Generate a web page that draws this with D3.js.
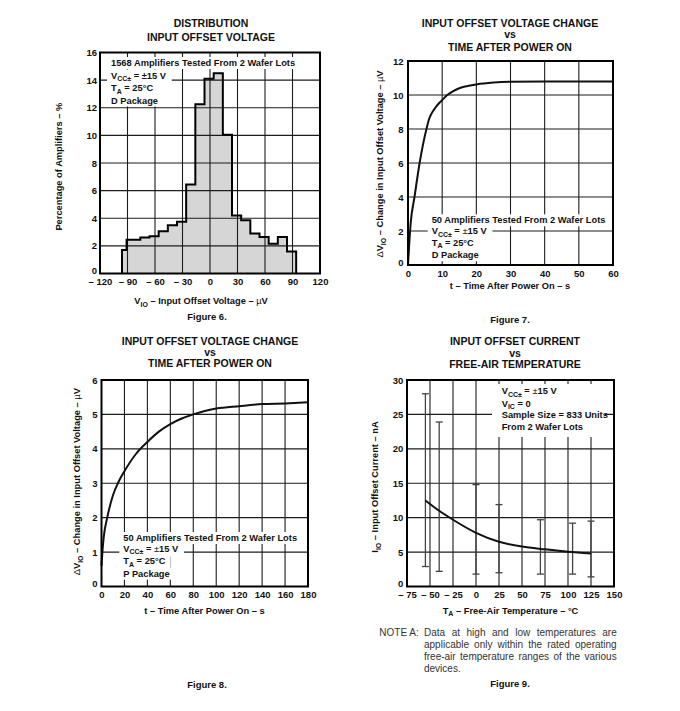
<!DOCTYPE html>
<html>
<head>
<meta charset="utf-8">
<script src="https://cdn.jsdelivr.net/npm/d3@7"></script>
<style>
  body { margin: 0; background: #fff; }
  svg text { font-family: "Liberation Sans", Arial, Helvetica, sans-serif; font-weight: bold; fill: #111; }
</style>
</head>
<body>
<script>
// Figure 6: distribution of input offset voltage (bin edges in uV, percentage per bin)
var binEdges = [-96, -91, -76, -66, -56, -46, -36, -26, -16, -6, 4, 14, 24, 34, 44, 54, 64, 74, 84, 94];
var binPct   = [1.7, 2.45, 2.6, 2.7, 3.05, 3.5, 3.75, 6.45, 12.25, 14.1, 14.5, 10.05, 4.2, 3.85, 2.9, 2.65, 2.15, 2.65, 1.6];

// Figure 7: offset change vs time after power on, D package
var timeD   = [0, 0.8, 1.9, 3.4, 5.4, 6.2, 7, 8, 9, 10, 11.5, 13, 15, 17.5, 20, 25, 30, 40, 60];
var changeD = [0, 2.5, 4, 6, 8, 8.6, 8.95, 9.25, 9.5, 9.7, 10.0, 10.2, 10.4, 10.53, 10.62, 10.73, 10.78, 10.8, 10.8];

// Figure 8: offset change vs time after power on, P package
var timeP   = [0, 1, 2, 5, 10, 15, 20, 30, 40, 50, 60, 70, 80, 90, 100, 120, 140, 160, 180];
var changeP = [0.6, 1.1, 1.45, 2.0, 2.65, 3.05, 3.35, 3.85, 4.2, 4.5, 4.72, 4.88, 5.0, 5.1, 5.17, 5.24, 5.3, 5.32, 5.35];

// Figure 9: input offset current vs temperature
var barTemps = [-55, -40, 0, 25, 70, 105, 125];
var iioMax   = [28, 23.9, 14.8, 11.9, 9.7, 9.2, 9.5];
var iioMin   = [2.9, 2.2, 1.8, 2.0, 1.8, 1.8, 1.4];
var curveTemps = [-55, -40, -25, 0, 25, 50, 75, 100, 125];
var iioTyp     = [12.5, 11.0, 9.7, 7.8, 6.5, 5.8, 5.4, 5.05, 4.8];

var svg = d3.select("body").append("svg").attr("width", 680).attr("height", 711);

function fmt(d) { return d < 0 ? "\u2013 " + Math.abs(d) : String(d); }

// parts: [[text, kind]] kind = "sub" | "thin"
function rich(t, parts, size) {
  var shift = 0;
  parts.forEach(function (p) {
    var ts = t.append("tspan").text(p[0]);
    var want = p[1] == "sub" ? size * 0.3 : 0;
    if (want != shift) { ts.attr("dy", want - shift); shift = want; }
    if (p[1] == "sub") ts.attr("font-size", size * 0.75);
    if (p[1] == "thin") ts.attr("font-weight", "normal");
  });
  return t;
}

function label(x, y, parts, size, anchor, rot) {
  var t = svg.append("text").attr("font-size", size).attr("text-anchor", anchor || "middle");
  if (rot) t.attr("transform", "translate(" + x + "," + y + ") rotate(-90)");
  else t.attr("x", x).attr("y", y);
  return rich(t, parts, size);
}

// annotation block, white behind each line (or one block)
function note(g, x0, baselines, lines, block) {
  var size = 9.3;
  var bg = g.append("g"), tx = g.append("g");
  var boxes = lines.map(function (ln, i) {
    var t = tx.append("text").attr("x", x0).attr("y", baselines[i]).attr("font-size", size);
    rich(t, ln, size);
    return t.node().getBBox();
  });
  if (block) {
    bg.append("rect").attr("x", block[0]).attr("y", block[1])
      .attr("width", block[2] - block[0]).attr("height", block[3] - block[1]).attr("fill", "#fff");
  } else {
    boxes.forEach(function (b) {
      bg.append("rect").attr("x", b.x - 4).attr("y", b.y - 1)
        .attr("width", b.width + 9).attr("height", b.height + 2).attr("fill", "#fff");
    });
  }
}

function panel(o) {
  var g = svg.append("g");
  var x = d3.scaleLinear().domain(o.xDom).range([o.left, o.right]);
  var y = d3.scaleLinear().domain(o.yDom).range([o.bottom, o.top]);
  var xt = d3.range(o.xDom[0], o.xDom[1] + 1e-9, o.xStep);
  var yt = d3.range(o.yDom[0], o.yDom[1] + 1e-9, o.yStep);

  if (o.under) o.under(g, x, y);

  var grid = g.append("g").attr("stroke", "#1c1c1c").attr("stroke-width", 1.1);
  grid.selectAll(".v").data(xt.slice(1, -1)).enter().append("line")
    .attr("x1", x).attr("x2", x).attr("y1", o.top).attr("y2", o.bottom);
  grid.selectAll(".h").data(yt.slice(1, -1)).enter().append("line")
    .attr("y1", y).attr("y2", y).attr("x1", o.left).attr("x2", o.right);

  if (o.over) o.over(g, x, y);

  g.append("rect").attr("x", o.left).attr("y", o.top)
    .attr("width", o.right - o.left).attr("height", o.bottom - o.top)
    .attr("fill", "none").attr("stroke", "#000").attr("stroke-width", 2);

  var ax = g.append("g").attr("transform", "translate(0," + o.bottom + ")")
    .call(d3.axisBottom(x).tickValues(xt).tickFormat(fmt).tickSize(0).tickPadding(5));
  var ay = g.append("g").attr("transform", "translate(" + o.left + ",0)")
    .call(d3.axisLeft(y).tickValues(yt).tickFormat(fmt).tickSize(0).tickPadding(o.yPad));
  [ax, ay].forEach(function (a) {
    a.attr("font-family", null).attr("font-size", 9.5);
    a.select(".domain").remove();
    a.selectAll("text").attr("fill", "#111");
  });
  // bottom y label sits just above the x labels
  ay.selectAll("text").filter(function (d) { return d === o.yDom[0]; }).attr("dy", "0.05em");

  o.title.forEach(function (s, i) { label(o.titleX, o.titleY[i], [[s]], 10.5); });
  label(o.xTitle[0], o.xTitle[1], o.xTitle[2], 9.3);
  label(o.yTitle[0], o.yTitle[1], o.yTitle[2], 9.3, "middle", true);
  label(o.fig[0], o.fig[1], [[o.fig[2]]], 9.5);
  return g;
}

var lineGen = function (x, y) {
  return d3.line().x(function (d) { return x(d[0]); }).y(function (d) { return y(d[1]); })
    .curve(d3.curveMonotoneX);
};

// ---------- Figure 6 ----------
panel({
  left: 100, right: 320, top: 52.5, bottom: 273.5,
  xDom: [-120, 120], xStep: 30, yDom: [0, 16], yStep: 2, yPad: 3,
  title: ["DISTRIBUTION", "INPUT OFFSET VOLTAGE"], titleX: 211, titleY: [27.3, 40.7],
  xTitle: [201, 304, [["V"], ["IO", "sub"], [" \u2013 Input Offset Voltage \u2013 "], ["\u00b5", "thin"], ["V"]]],
  yTitle: [62, 166.7, [["Percentage of Amplifiers \u2013 %"]]],
  fig: [207, 320, "Figure 6."],
  under: function (g, x, y) {
    var pts = [[binEdges[0], 0]];
    binPct.forEach(function (p, i) { pts.push([binEdges[i], p], [binEdges[i + 1], p]); });
    pts.push([binEdges[binEdges.length - 1], 0]);
    var step = d3.line().x(function (d) { return x(d[0]); }).y(function (d) { return y(d[1]); });
    g.append("path").attr("d", step(pts)).attr("fill", "#d6d6d6");
    this.pts = pts; this.step = step;
  },
  over: function (g, x, y) {
    g.append("path").attr("d", this.step(this.pts)).attr("fill", "none")
      .attr("stroke", "#000").attr("stroke-width", 2);
    note(g, 111, [66, 78.5, 91, 103.5], [
      [["1568 Amplifiers Tested From 2 Wafer Lots"]],
      [["V"], ["CC\u00b1", "sub"], [" = \u00b115 V"]],
      [["T"], ["A", "sub"], [" = 25\u00b0C"]],
      [["D Package"]]
    ]);
  }
});

// ---------- Figure 7 ----------
panel({
  left: 408, right: 613, top: 61, bottom: 265,
  xDom: [0, 60], xStep: 10, yDom: [0, 12], yStep: 2, yPad: 4.5,
  title: ["INPUT OFFSET VOLTAGE CHANGE", "vs", "TIME AFTER POWER ON"], titleX: 510, titleY: [27.3, 38.3, 50.7],
  xTitle: [510, 289, [["t \u2013 Time After Power On \u2013 s"]]],
  yTitle: [383, 164, [["\u0394", "thin"], ["V"], ["IO", "sub"], [" \u2013 Change in Input Offset Voltage \u2013 "], ["\u00b5", "thin"], ["V"]]],
  fig: [510, 323.3, "Figure 7."],
  over: function (g, x, y) {
    note(g, 431.7, [223.3, 233.8, 245.7, 258.3], [
      [["50 Amplifiers Tested From 2 Wafer Lots"]],
      [["V"], ["CC\u00b1", "sub"], [" = "], ["\u00b1", "thin"], ["15 V"]],
      [["T"], ["A", "sub"], [" = 25\u00b0C"]],
      [["D Package"]]
    ]);
    g.append("path").attr("d", lineGen(x, y)(d3.zip(timeD, changeD)))
      .attr("fill", "none").attr("stroke", "#111").attr("stroke-width", 2);
  }
});

// ---------- Figure 8 ----------
panel({
  left: 101.5, right: 308, top: 380, bottom: 586.5,
  xDom: [0, 180], xStep: 20, yDom: [0, 6], yStep: 1, yPad: 4,
  title: ["INPUT OFFSET VOLTAGE CHANGE", "vs", "TIME AFTER POWER ON"], titleX: 210, titleY: [345.3, 356, 367.3],
  xTitle: [204.5, 614, [["t \u2013 Time After Power On \u2013 s"]]],
  yTitle: [80, 481.7, [["\u0394", "thin"], ["V"], ["IO", "sub"], [" \u2013 Change in Input Offset Voltage \u2013 "], ["\u00b5", "thin"], ["V"]]],
  fig: [207, 688.3, "Figure 8."],
  over: function (g, x, y) {
    note(g, 123.3, [541, 551.7, 564.3, 576.7], [
      [["50 Amplifiers Tested From 2 Wafer Lots"]],
      [["V"], ["CC\u00b1", "sub"], [" = "], ["\u00b1", "thin"], ["15 V"]],
      [["T"], ["A", "sub"], [" = 25\u00b0C"]],
      [["P Package"]]
    ]);
    g.append("path").attr("d", lineGen(x, y)(d3.zip(timeP, changeP)))
      .attr("fill", "none").attr("stroke", "#111").attr("stroke-width", 2);
  }
});

// ---------- Figure 9 ----------
panel({
  left: 407, right: 614, top: 380, bottom: 586.5,
  xDom: [-75, 150], xStep: 25, yDom: [0, 30], yStep: 5, yPad: 3.7,
  title: ["INPUT OFFSET CURRENT", "vs", "FREE-AIR TEMPERATURE"], titleX: 515, titleY: [345.3, 356.7, 367.7],
  xTitle: [510.5, 613.5, [["T"], ["A", "sub"], [" \u2013 Free-Air Temperature \u2013 \u00b0C"]]],
  yTitle: [378, 487, [["I"], ["IO", "sub"], [" \u2013 Input Offset Current \u2013 nA"]]],
  fig: [510, 686.7, "Figure 9."],
  over: function (g, x, y) {
    note(g, 501.7, [394, 406.7, 418.3, 430], [
      [["V"], ["CC\u00b1", "sub"], [" = "], ["\u00b1", "thin"], ["15 V"]],
      [["V"], ["IC", "sub"], [" = 0"]],
      [["Sample Size = 833 Units"]],
      [["From 2 Wafer Lots"]]
    ], [492, 384, 605, 437]);
    var bars = g.append("g").attr("stroke", "#444").attr("stroke-width", 1.3);
    barTemps.forEach(function (t, i) {
      bars.append("line").attr("x1", x(t)).attr("x2", x(t)).attr("y1", y(iioMax[i])).attr("y2", y(iioMin[i]));
      [iioMax[i], iioMin[i]].forEach(function (v) {
        bars.append("line").attr("x1", x(t) - 3.5).attr("x2", x(t) + 3.5).attr("y1", y(v)).attr("y2", y(v));
      });
    });
    g.append("path").attr("d", lineGen(x, y)(d3.zip(curveTemps, iioTyp)))
      .attr("fill", "none").attr("stroke", "#111").attr("stroke-width", 2);
  }
});

// Note A, justified text block
var noteG = svg.append("g").attr("font-size", 10);
noteG.append("text").attr("x", 379.3).attr("y", 635.7)
  .style("font-weight", "normal").style("fill", "#333").text("NOTE A:");
var noteLines = ["Data at high and low temperatures are",
                 "applicable only within the rated operating",
                 "free-air temperature ranges of the various",
                 "devices."];
noteLines.forEach(function (s, i) {
  var t = noteG.append("text").attr("y", 635.7 + i * 12).style("font-weight", "normal").style("fill", "#333");
  var words = s.split(" ");
  var spans = words.map(function (w) { return t.append("tspan").attr("x", 424).text(w); });
  var widths = spans.map(function (sp) { return sp.node().getComputedTextLength(); });
  var total = d3.sum(widths);
  var gap = i < noteLines.length - 1 && words.length > 1 ? (616.7 - 424 - total) / (words.length - 1) : 2.8;
  var cx = 424;
  spans.forEach(function (sp, k) { sp.attr("x", cx); cx += widths[k] + gap; });
});
</script>
</body>
</html>
